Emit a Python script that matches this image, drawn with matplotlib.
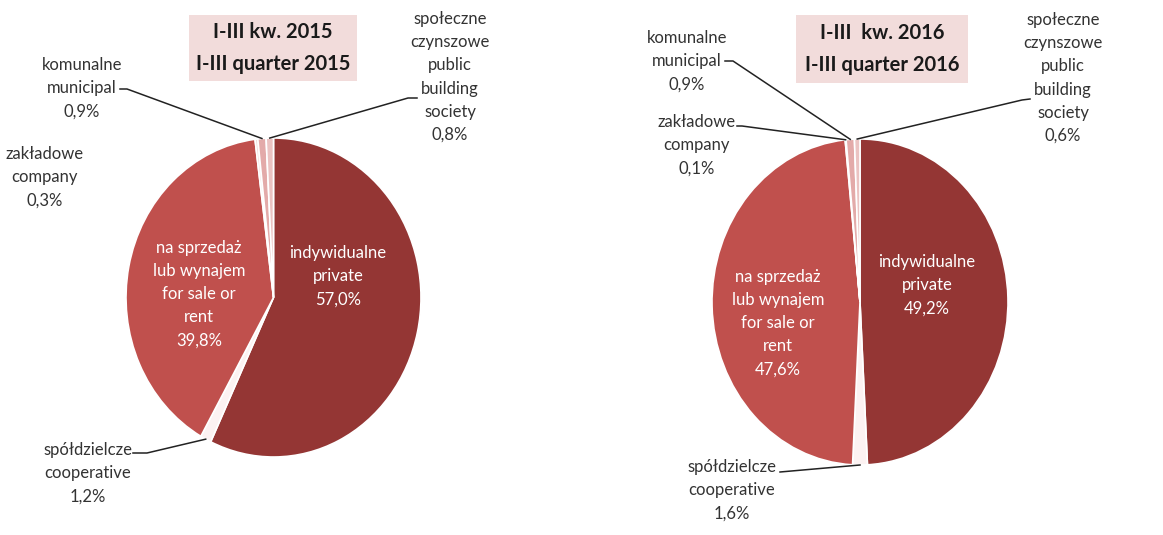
import matplotlib
matplotlib.use('Agg')
import matplotlib.pyplot as plt
from matplotlib.patches import Rectangle
from matplotlib.lines import Line2D
import numpy as np

plt.rcParams['font.family'] = ['Lato', 'DejaVu Sans']

# Data
categories = ['indywidualne\nprivate', 'spółdzielcze\ncooperative',
              'na sprzedaż\nlub wynajem\nfor sale or\nrent', 'zakładowe\ncompany',
              'komunalne\nmunicipal', 'społeczne\nczynszowe\npublic\nbuilding\nsociety']
shares_2015 = [57.0, 1.2, 39.8, 0.3, 0.9, 0.8]
shares_2016 = [49.2, 1.6, 47.6, 0.1, 0.9, 0.6]
titles = ['I-III kw. 2015\nI-III quarter 2015', 'I-III  kw. 2016\nI-III quarter 2016']

colors = ['#943634', '#FCF2F2', '#C0504D', '#F2DCDB', '#E3AAA9', '#EBC3C2']

W, H = 1163, 535


def ff(x, y):
    # pixel (from top-left) -> figure fraction
    return x / W, 1 - y / H


# layout per chart (pixels): pie bbox, title box, label centres, leader knees
layouts = [
    dict(pie=(126, 138, 421, 457), box=(189, 15, 357, 81),
         text={0: (338, 276), 2: (199, 294), 1: (88, 473), 3: (45, 177),
               4: (82, 88), 5: (450, 77)},
         leader={1: [(133, 453), (147, 453)], 4: [(120, 89), (127, 89)],
                 5: [(417, 98), (408, 98)]}),
    dict(pie=(712, 139, 1008, 465), box=(796, 15, 968, 83),
         text={0: (927, 285), 2: (778, 323), 1: (732, 490), 3: (697, 145),
               4: (687, 61), 5: (1063, 78)},
         leader={1: [(780, 472)], 3: [(737, 126), (742, 126)],
                 4: [(725, 61), (733, 61)], 5: [(1030, 99), (1022, 100)]}),
]

fig = plt.figure(figsize=(W / 100, H / 100), dpi=100)

for shares, title, lay in zip([shares_2015, shares_2016], titles, layouts):
    x0, y0, x1, y1 = lay['pie']
    ax = fig.add_axes([x0 / W, (H - y1) / H, (x1 - x0) / W, (y1 - y0) / H])
    wedges, _ = ax.pie(shares, colors=colors, startangle=90, counterclock=False,
                       radius=1, wedgeprops=dict(edgecolor='white', linewidth=1.2))
    ax.set_aspect('auto')
    ax.set_xlim(-1, 1)
    ax.set_ylim(-1, 1)
    ax.axis('off')

    # title box
    bx0, by0, bx1, by1 = lay['box']
    fx0, fy1 = ff(bx0, by1)
    fig.add_artist(Rectangle((fx0, fy1), (bx1 - bx0) / W, (by1 - by0) / H,
                             transform=fig.transFigure, facecolor='#F2DCDB',
                             edgecolor='none'))
    fig.text(*ff((bx0 + bx1) / 2, (by0 + by1) / 2), title, ha='center', va='center',
             fontsize=14.5, fontweight='bold', color='#1a1a1a', linespacing=1.7)

    for i, (cat, val) in enumerate(zip(categories, shares)):
        label = cat + '\n' + f'{val:.1f}'.replace('.', ',') + '%'
        inside = i in (0, 2)
        fig.text(*ff(*lay['text'][i]), label, ha='center', va='center', fontsize=12,
                 color='white' if inside else '#333333', linespacing=1.55)

        if i in lay['leader']:
            w = wedges[i]
            mid = np.deg2rad((w.theta1 + w.theta2) / 2)
            px, py = ax.transData.transform((np.cos(mid), np.sin(mid)))
            pts = [ff(*p) for p in lay['leader'][i]] + [(px / W, py / H)]
            xs, ys = zip(*pts)
            fig.add_artist(Line2D(xs, ys, transform=fig.transFigure,
                                  color='#222222', lw=1.1))

fig.savefig('out.png', dpi=100)
